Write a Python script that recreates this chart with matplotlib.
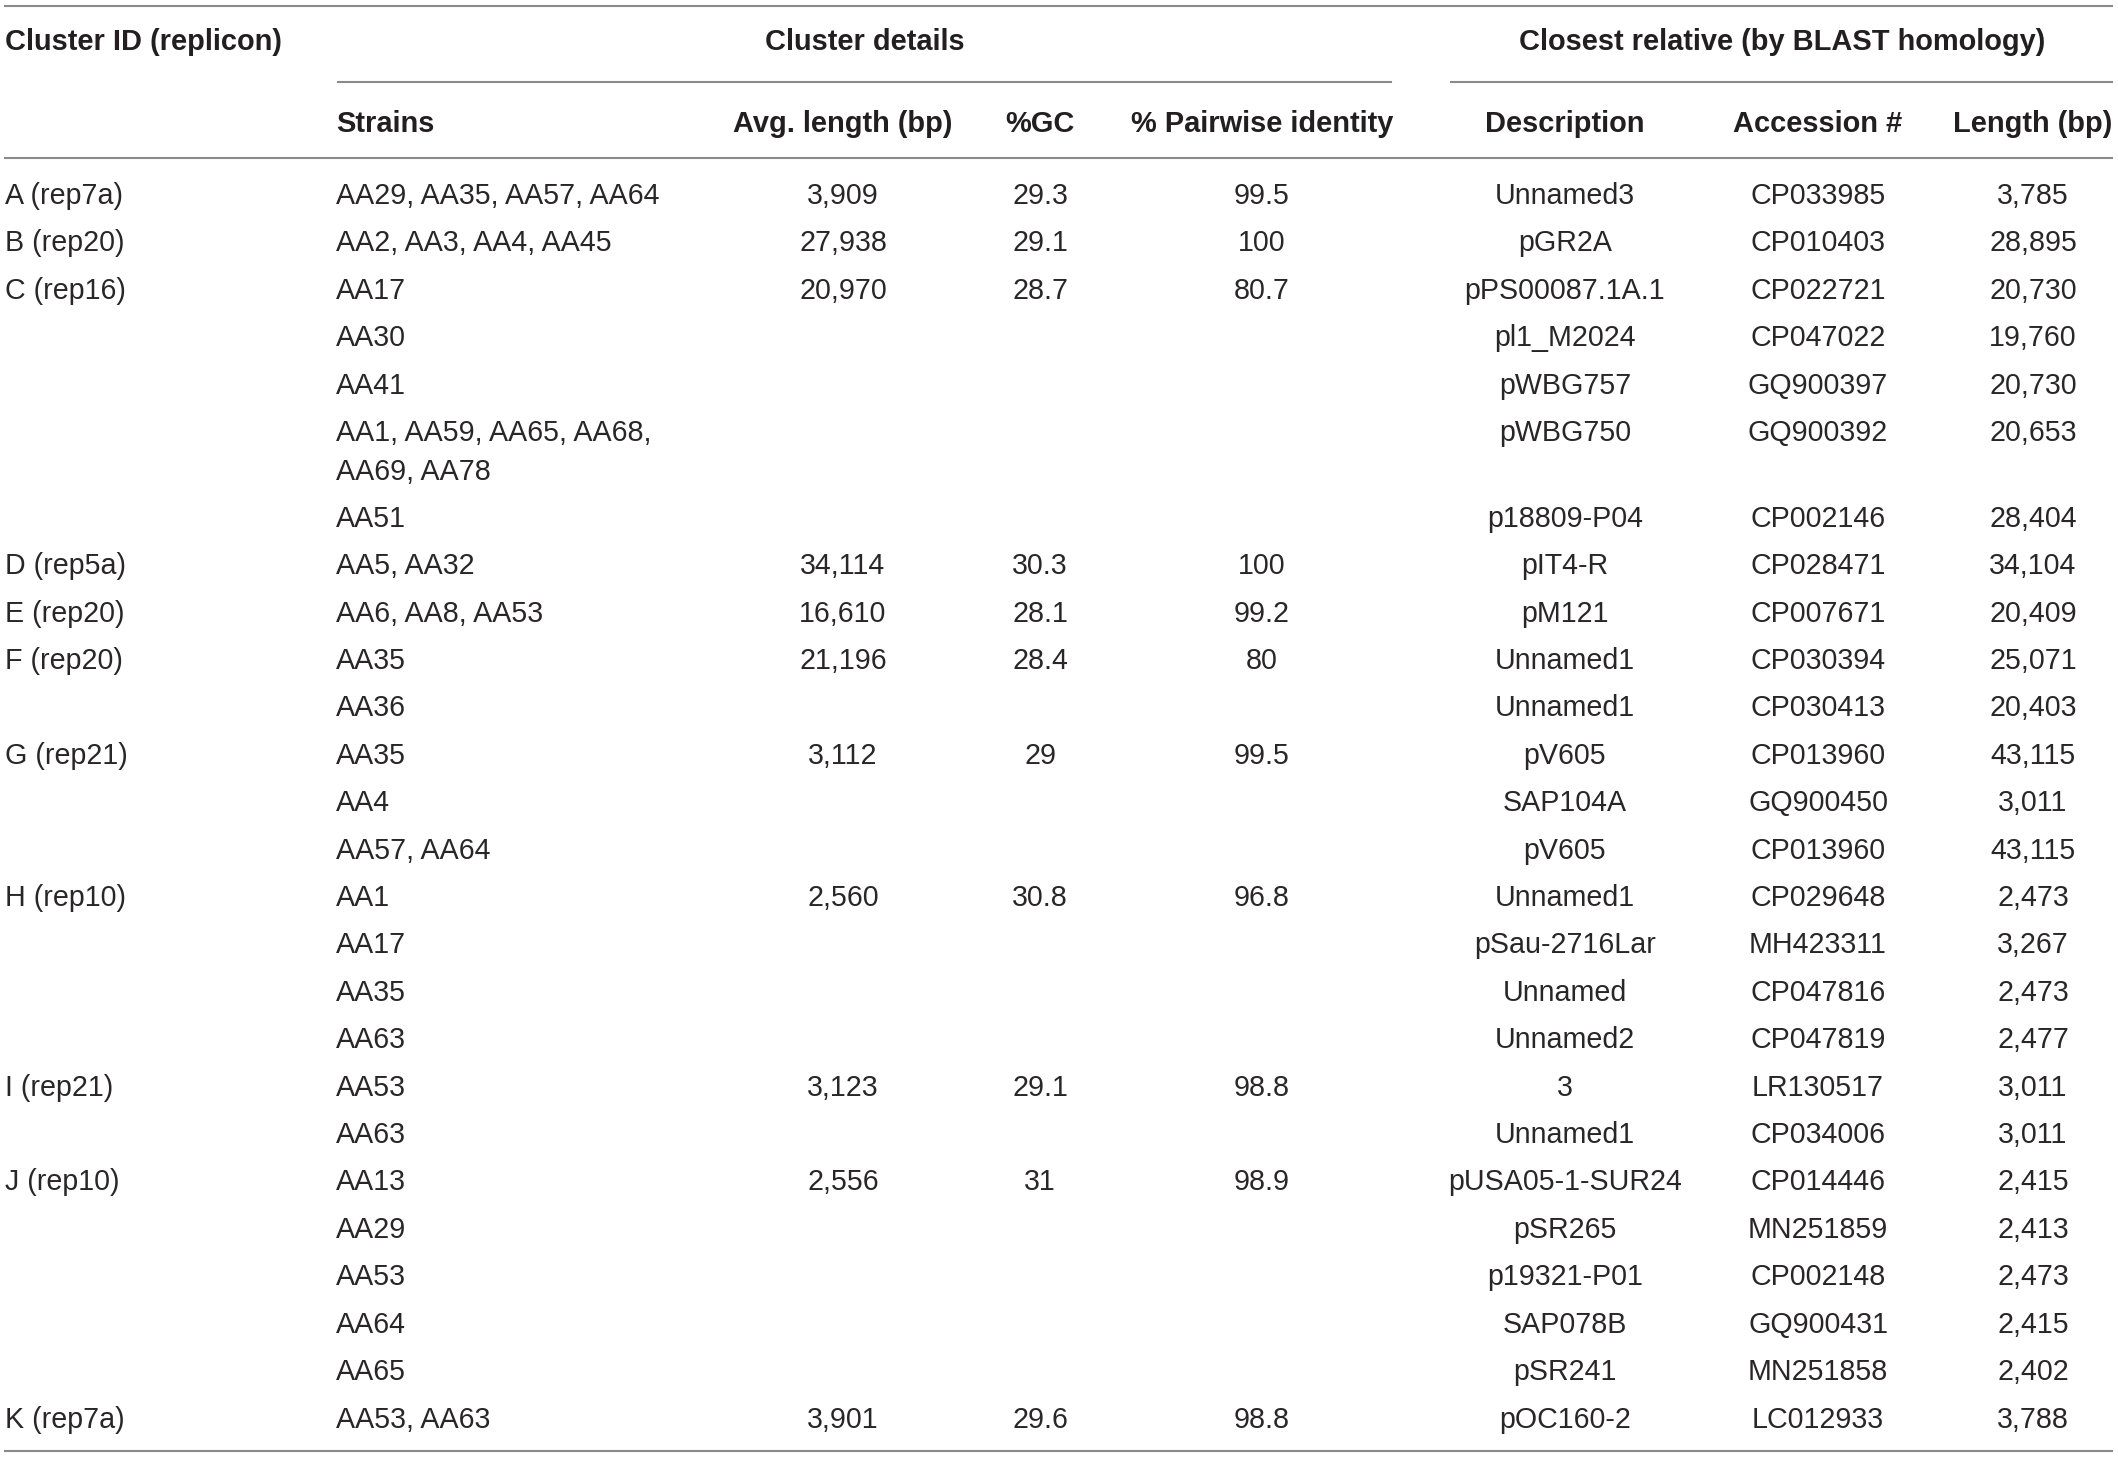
import matplotlib
matplotlib.use('Agg')
import matplotlib.pyplot as plt

# table contents, one entry per sub-row
cluster_ids = ['A (rep7a)', 'B (rep20)', 'C (rep16)', '', '', '', '',
               'D (rep5a)', 'E (rep20)', 'F (rep20)', '', 'G (rep21)', '', '',
               'H (rep10)', '', '', '', 'I (rep21)', '', 'J (rep10)', '', '', '', '',
               'K (rep7a)']
strains = ['AA29, AA35, AA57, AA64', 'AA2, AA3, AA4, AA45', 'AA17', 'AA30', 'AA41',
           'AA1, AA59, AA65, AA68,\nAA69, AA78', 'AA51', 'AA5, AA32', 'AA6, AA8, AA53',
           'AA35', 'AA36', 'AA35', 'AA4', 'AA57, AA64', 'AA1', 'AA17', 'AA35', 'AA63',
           'AA53', 'AA63', 'AA13', 'AA29', 'AA53', 'AA64', 'AA65', 'AA53, AA63']
avg_length = ['3,909', '27,938', '20,970', '', '', '', '', '34,114', '16,610', '21,196', '',
              '3,112', '', '', '2,560', '', '', '', '3,123', '', '2,556', '', '', '', '',
              '3,901']
gc = ['29.3', '29.1', '28.7', '', '', '', '', '30.3', '28.1', '28.4', '', '29', '', '',
      '30.8', '', '', '', '29.1', '', '31', '', '', '', '', '29.6']
pairwise = ['99.5', '100', '80.7', '', '', '', '', '100', '99.2', '80', '', '99.5', '', '',
            '96.8', '', '', '', '98.8', '', '98.9', '', '', '', '', '98.8']
descriptions = ['Unnamed3', 'pGR2A', 'pPS00087.1A.1', 'pl1_M2024', 'pWBG757', 'pWBG750',
                'p18809-P04', 'pIT4-R', 'pM121', 'Unnamed1', 'Unnamed1', 'pV605', 'SAP104A',
                'pV605', 'Unnamed1', 'pSau-2716Lar', 'Unnamed', 'Unnamed2', '3', 'Unnamed1',
                'pUSA05-1-SUR24', 'pSR265', 'p19321-P01', 'SAP078B', 'pSR241', 'pOC160-2']
accessions = ['CP033985', 'CP010403', 'CP022721', 'CP047022', 'GQ900397', 'GQ900392',
              'CP002146', 'CP028471', 'CP007671', 'CP030394', 'CP030413', 'CP013960',
              'GQ900450', 'CP013960', 'CP029648', 'MH423311', 'CP047816', 'CP047819',
              'LR130517', 'CP034006', 'CP014446', 'MN251859', 'CP002148', 'GQ900431',
              'MN251858', 'LC012933']
rel_length = ['3,785', '28,895', '20,730', '19,760', '20,730', '20,653', '28,404', '34,104',
              '20,409', '25,071', '20,403', '43,115', '3,011', '43,115', '2,473', '3,267',
              '2,473', '2,477', '3,011', '3,011', '2,415', '2,413', '2,473', '2,415',
              '2,402', '3,788']

group_headers = ['Cluster ID (replicon)', 'Cluster details', 'Closest relative (by BLAST homology)']
col_headers = ['Strains', 'Avg. length (bp)', '%GC', '% Pairwise identity',
               'Description', 'Accession #', 'Length (bp)']

# layout (pixels)
W, H = 2118, 1458
body_color = '#2a2627'
head_color = '#231f20'
line_color = '#8a8a8a'
fs = 20.6
fs_head = 20.9
font = 'Liberation Sans'

fig = plt.figure(figsize=(W / 100, H / 100), dpi=100)
ax = fig.add_axes([0, 0, 1, 1])
ax.set_xlim(0, W)
ax.set_ylim(H, 0)
ax.axis('off')

# rules
lw = 1.5
ax.plot([5, 2112], [6, 6], color=line_color, lw=lw)
ax.plot([338, 1391], [82, 82], color=line_color, lw=lw)
ax.plot([1451, 2112], [82, 82], color=line_color, lw=lw)
ax.plot([5, 2112], [158, 158], color=line_color, lw=lw)
ax.plot([5, 2112], [1451, 1451], color=line_color, lw=lw)

# headers
hdr = dict(fontsize=fs_head, fontweight='bold', family=font, color=head_color, va='baseline')
ax.text(5, 50, group_headers[0], ha='left', **hdr)
ax.text(865, 50, group_headers[1], ha='center', **hdr)
ax.text(1782, 50, group_headers[2], ha='center', **hdr)

col_x = [336, 843, 1040, 1262, 1565, 1818, 2033]
col_ha = ['left', 'center', 'center', 'center', 'center', 'center', 'center']
for x, ha, name in zip(col_x, col_ha, col_headers):
    ax.text(x, 132, name, ha=ha, **hdr)

# body
body = dict(fontsize=fs, family=font, color=body_color, va='baseline')
columns = [cluster_ids, strains, avg_length, gc, pairwise, descriptions, accessions, rel_length]
xs = [5] + col_x
has = ['left'] + col_ha
row_step = 47.4
line_step = 38.5
y = 204
for i in range(len(strains)):
    nlines = 1
    for col, x, ha in zip(columns, xs, has):
        parts = col[i].split('\n')
        nlines = max(nlines, len(parts))
        for k, p in enumerate(parts):
            ax.text(x, y + k * line_step, p, ha=ha, **body)
    y += row_step + (nlines - 1) * line_step

fig.savefig('out.png', dpi=100)
